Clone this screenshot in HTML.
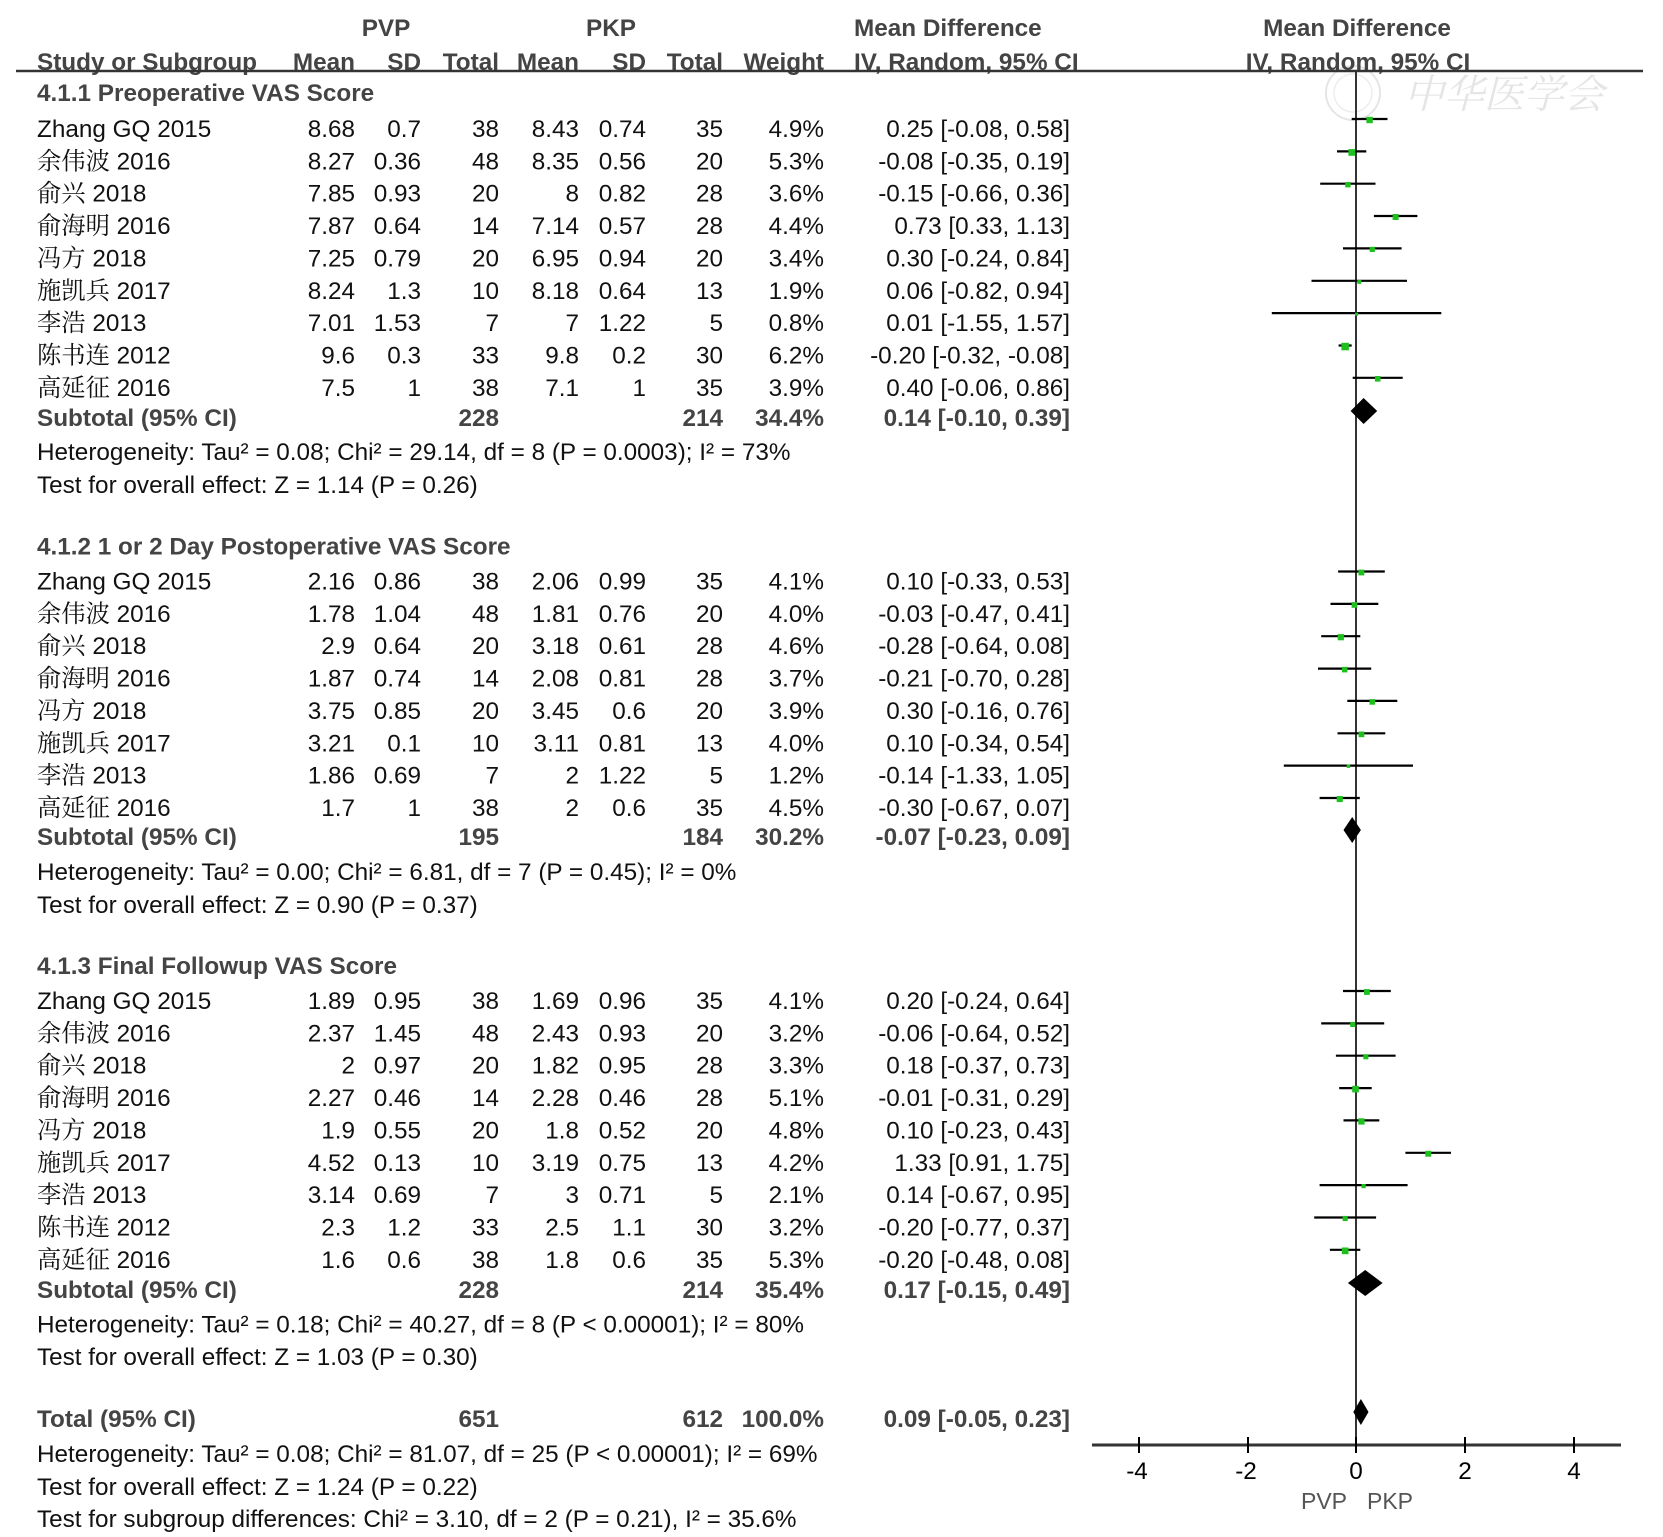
<!DOCTYPE html>
<html><head><meta charset="utf-8">
<style>
html,body{margin:0;padding:0;background:#fff;}
svg{display:block;}
text{font-family:"Liberation Sans","Noto Serif CJK SC",sans-serif;font-size:24.3px;fill:#111;}
.b{font-weight:bold;fill:#444;}
.e{text-anchor:end;}
.m{text-anchor:middle;}
.ci{stroke:#000;stroke-width:2.2;}
.sq{fill:#1ec01e;}
.dm{fill:#000;}
</style></head>
<body>
<svg width="1663" height="1537" viewBox="0 0 1663 1537" xmlns="http://www.w3.org/2000/svg">
<!-- watermark -->
<g opacity="0.5">
<circle cx="1353" cy="93" r="27" fill="none" stroke="#ccc" stroke-width="2"/>
<circle cx="1353" cy="93" r="19" fill="none" stroke="#ddd" stroke-width="1.5"/>
<text x="1404" y="108" style="font-family:'Noto Serif CJK SC',serif;font-size:40px;fill:#ccc;font-style:italic;">中华医学会</text>
</g>

<!-- header -->
<text class="b m" x="386" y="36">PVP</text>
<text class="b m" x="611" y="36">PKP</text>
<text class="b" x="854" y="36">Mean Difference</text>
<text class="b m" x="1357" y="36">Mean Difference</text>
<text class="b" x="37" y="70">Study or Subgroup</text>
<text class="b e" x="355" y="70">Mean</text>
<text class="b e" x="421" y="70">SD</text>
<text class="b e" x="499" y="70">Total</text>
<text class="b e" x="579" y="70">Mean</text>
<text class="b e" x="646" y="70">SD</text>
<text class="b e" x="723" y="70">Total</text>
<text class="b e" x="824" y="70">Weight</text>
<text class="b" x="854" y="70">IV, Random, 95% CI</text>
<text class="b m" x="1358" y="70">IV, Random, 95% CI</text>
<line x1="16" y1="71" x2="1643" y2="71" stroke="#333" stroke-width="2.5"/>

<!-- zero line -->
<line x1="1356" y1="71" x2="1356" y2="1445" stroke="#333" stroke-width="2"/>

<!-- Section 4.1.1 -->
<text class="b" x="37" y="101">4.1.1 Preoperative VAS Score</text>

<g>
<text x="37" y="137">Zhang GQ 2015</text><text class="e" x="355" y="137">8.68</text><text class="e" x="421" y="137">0.7</text><text class="e" x="499" y="137">38</text><text class="e" x="579" y="137">8.43</text><text class="e" x="646" y="137">0.74</text><text class="e" x="723" y="137">35</text><text class="e" x="824" y="137">4.9%</text><text class="e" x="1070" y="137">0.25 [-0.08, 0.58]</text>
<text x="37" y="169.4">余伟波 2016</text><text class="e" x="355" y="169.4">8.27</text><text class="e" x="421" y="169.4">0.36</text><text class="e" x="499" y="169.4">48</text><text class="e" x="579" y="169.4">8.35</text><text class="e" x="646" y="169.4">0.56</text><text class="e" x="723" y="169.4">20</text><text class="e" x="824" y="169.4">5.3%</text><text class="e" x="1070" y="169.4">-0.08 [-0.35, 0.19]</text>
<text x="37" y="201.7">俞兴 2018</text><text class="e" x="355" y="201.7">7.85</text><text class="e" x="421" y="201.7">0.93</text><text class="e" x="499" y="201.7">20</text><text class="e" x="579" y="201.7">8</text><text class="e" x="646" y="201.7">0.82</text><text class="e" x="723" y="201.7">28</text><text class="e" x="824" y="201.7">3.6%</text><text class="e" x="1070" y="201.7">-0.15 [-0.66, 0.36]</text>
<text x="37" y="234">俞海明 2016</text><text class="e" x="355" y="234">7.87</text><text class="e" x="421" y="234">0.64</text><text class="e" x="499" y="234">14</text><text class="e" x="579" y="234">7.14</text><text class="e" x="646" y="234">0.57</text><text class="e" x="723" y="234">28</text><text class="e" x="824" y="234">4.4%</text><text class="e" x="1070" y="234">0.73 [0.33, 1.13]</text>
<text x="37" y="266.4">冯方 2018</text><text class="e" x="355" y="266.4">7.25</text><text class="e" x="421" y="266.4">0.79</text><text class="e" x="499" y="266.4">20</text><text class="e" x="579" y="266.4">6.95</text><text class="e" x="646" y="266.4">0.94</text><text class="e" x="723" y="266.4">20</text><text class="e" x="824" y="266.4">3.4%</text><text class="e" x="1070" y="266.4">0.30 [-0.24, 0.84]</text>
<text x="37" y="298.8">施凯兵 2017</text><text class="e" x="355" y="298.8">8.24</text><text class="e" x="421" y="298.8">1.3</text><text class="e" x="499" y="298.8">10</text><text class="e" x="579" y="298.8">8.18</text><text class="e" x="646" y="298.8">0.64</text><text class="e" x="723" y="298.8">13</text><text class="e" x="824" y="298.8">1.9%</text><text class="e" x="1070" y="298.8">0.06 [-0.82, 0.94]</text>
<text x="37" y="331.1">李浩 2013</text><text class="e" x="355" y="331.1">7.01</text><text class="e" x="421" y="331.1">1.53</text><text class="e" x="499" y="331.1">7</text><text class="e" x="579" y="331.1">7</text><text class="e" x="646" y="331.1">1.22</text><text class="e" x="723" y="331.1">5</text><text class="e" x="824" y="331.1">0.8%</text><text class="e" x="1070" y="331.1">0.01 [-1.55, 1.57]</text>
<text x="37" y="363.5">陈书连 2012</text><text class="e" x="355" y="363.5">9.6</text><text class="e" x="421" y="363.5">0.3</text><text class="e" x="499" y="363.5">33</text><text class="e" x="579" y="363.5">9.8</text><text class="e" x="646" y="363.5">0.2</text><text class="e" x="723" y="363.5">30</text><text class="e" x="824" y="363.5">6.2%</text><text class="e" x="1070" y="363.5">-0.20 [-0.32, -0.08]</text>
<text x="37" y="395.8">高延征 2016</text><text class="e" x="355" y="395.8">7.5</text><text class="e" x="421" y="395.8">1</text><text class="e" x="499" y="395.8">38</text><text class="e" x="579" y="395.8">7.1</text><text class="e" x="646" y="395.8">1</text><text class="e" x="723" y="395.8">35</text><text class="e" x="824" y="395.8">3.9%</text><text class="e" x="1070" y="395.8">0.40 [-0.06, 0.86]</text>
<text class="b" x="37" y="426">Subtotal (95% CI)</text><text class="b e" x="499" y="426">228</text><text class="b e" x="723" y="426">214</text><text class="b e" x="824" y="426">34.4%</text><text class="b e" x="1070" y="426">0.14 [-0.10, 0.39]</text>
<text x="37" y="460">Heterogeneity: Tau² = 0.08; Chi² = 29.14, df = 8 (P = 0.0003); I² = 73%</text>
<text x="37" y="493">Test for overall effect: Z = 1.14 (P = 0.26)</text>
</g>

<!-- Section 4.1.2 -->
<text class="b" x="37" y="554.5">4.1.2 1 or 2 Day Postoperative VAS Score</text>
<g>
<text x="37" y="589.5">Zhang GQ 2015</text><text class="e" x="355" y="589.5">2.16</text><text class="e" x="421" y="589.5">0.86</text><text class="e" x="499" y="589.5">38</text><text class="e" x="579" y="589.5">2.06</text><text class="e" x="646" y="589.5">0.99</text><text class="e" x="723" y="589.5">35</text><text class="e" x="824" y="589.5">4.1%</text><text class="e" x="1070" y="589.5">0.10 [-0.33, 0.53]</text>
<text x="37" y="621.9">余伟波 2016</text><text class="e" x="355" y="621.9">1.78</text><text class="e" x="421" y="621.9">1.04</text><text class="e" x="499" y="621.9">48</text><text class="e" x="579" y="621.9">1.81</text><text class="e" x="646" y="621.9">0.76</text><text class="e" x="723" y="621.9">20</text><text class="e" x="824" y="621.9">4.0%</text><text class="e" x="1070" y="621.9">-0.03 [-0.47, 0.41]</text>
<text x="37" y="654.2">俞兴 2018</text><text class="e" x="355" y="654.2">2.9</text><text class="e" x="421" y="654.2">0.64</text><text class="e" x="499" y="654.2">20</text><text class="e" x="579" y="654.2">3.18</text><text class="e" x="646" y="654.2">0.61</text><text class="e" x="723" y="654.2">28</text><text class="e" x="824" y="654.2">4.6%</text><text class="e" x="1070" y="654.2">-0.28 [-0.64, 0.08]</text>
<text x="37" y="686.6">俞海明 2016</text><text class="e" x="355" y="686.6">1.87</text><text class="e" x="421" y="686.6">0.74</text><text class="e" x="499" y="686.6">14</text><text class="e" x="579" y="686.6">2.08</text><text class="e" x="646" y="686.6">0.81</text><text class="e" x="723" y="686.6">28</text><text class="e" x="824" y="686.6">3.7%</text><text class="e" x="1070" y="686.6">-0.21 [-0.70, 0.28]</text>
<text x="37" y="718.9">冯方 2018</text><text class="e" x="355" y="718.9">3.75</text><text class="e" x="421" y="718.9">0.85</text><text class="e" x="499" y="718.9">20</text><text class="e" x="579" y="718.9">3.45</text><text class="e" x="646" y="718.9">0.6</text><text class="e" x="723" y="718.9">20</text><text class="e" x="824" y="718.9">3.9%</text><text class="e" x="1070" y="718.9">0.30 [-0.16, 0.76]</text>
<text x="37" y="751.3">施凯兵 2017</text><text class="e" x="355" y="751.3">3.21</text><text class="e" x="421" y="751.3">0.1</text><text class="e" x="499" y="751.3">10</text><text class="e" x="579" y="751.3">3.11</text><text class="e" x="646" y="751.3">0.81</text><text class="e" x="723" y="751.3">13</text><text class="e" x="824" y="751.3">4.0%</text><text class="e" x="1070" y="751.3">0.10 [-0.34, 0.54]</text>
<text x="37" y="783.6">李浩 2013</text><text class="e" x="355" y="783.6">1.86</text><text class="e" x="421" y="783.6">0.69</text><text class="e" x="499" y="783.6">7</text><text class="e" x="579" y="783.6">2</text><text class="e" x="646" y="783.6">1.22</text><text class="e" x="723" y="783.6">5</text><text class="e" x="824" y="783.6">1.2%</text><text class="e" x="1070" y="783.6">-0.14 [-1.33, 1.05]</text>
<text x="37" y="816">高延征 2016</text><text class="e" x="355" y="816">1.7</text><text class="e" x="421" y="816">1</text><text class="e" x="499" y="816">38</text><text class="e" x="579" y="816">2</text><text class="e" x="646" y="816">0.6</text><text class="e" x="723" y="816">35</text><text class="e" x="824" y="816">4.5%</text><text class="e" x="1070" y="816">-0.30 [-0.67, 0.07]</text>
<text class="b" x="37" y="845">Subtotal (95% CI)</text><text class="b e" x="499" y="845">195</text><text class="b e" x="723" y="845">184</text><text class="b e" x="824" y="845">30.2%</text><text class="b e" x="1070" y="845">-0.07 [-0.23, 0.09]</text>
<text x="37" y="880">Heterogeneity: Tau² = 0.00; Chi² = 6.81, df = 7 (P = 0.45); I² = 0%</text>
<text x="37" y="913">Test for overall effect: Z = 0.90 (P = 0.37)</text>
</g>

<!-- Section 4.1.3 -->
<text class="b" x="37" y="974">4.1.3 Final Followup VAS Score</text>
<g>
<text x="37" y="1009">Zhang GQ 2015</text><text class="e" x="355" y="1009">1.89</text><text class="e" x="421" y="1009">0.95</text><text class="e" x="499" y="1009">38</text><text class="e" x="579" y="1009">1.69</text><text class="e" x="646" y="1009">0.96</text><text class="e" x="723" y="1009">35</text><text class="e" x="824" y="1009">4.1%</text><text class="e" x="1070" y="1009">0.20 [-0.24, 0.64]</text>
<text x="37" y="1041.4">余伟波 2016</text><text class="e" x="355" y="1041.4">2.37</text><text class="e" x="421" y="1041.4">1.45</text><text class="e" x="499" y="1041.4">48</text><text class="e" x="579" y="1041.4">2.43</text><text class="e" x="646" y="1041.4">0.93</text><text class="e" x="723" y="1041.4">20</text><text class="e" x="824" y="1041.4">3.2%</text><text class="e" x="1070" y="1041.4">-0.06 [-0.64, 0.52]</text>
<text x="37" y="1073.7">俞兴 2018</text><text class="e" x="355" y="1073.7">2</text><text class="e" x="421" y="1073.7">0.97</text><text class="e" x="499" y="1073.7">20</text><text class="e" x="579" y="1073.7">1.82</text><text class="e" x="646" y="1073.7">0.95</text><text class="e" x="723" y="1073.7">28</text><text class="e" x="824" y="1073.7">3.3%</text><text class="e" x="1070" y="1073.7">0.18 [-0.37, 0.73]</text>
<text x="37" y="1106.1">俞海明 2016</text><text class="e" x="355" y="1106.1">2.27</text><text class="e" x="421" y="1106.1">0.46</text><text class="e" x="499" y="1106.1">14</text><text class="e" x="579" y="1106.1">2.28</text><text class="e" x="646" y="1106.1">0.46</text><text class="e" x="723" y="1106.1">28</text><text class="e" x="824" y="1106.1">5.1%</text><text class="e" x="1070" y="1106.1">-0.01 [-0.31, 0.29]</text>
<text x="37" y="1138.4">冯方 2018</text><text class="e" x="355" y="1138.4">1.9</text><text class="e" x="421" y="1138.4">0.55</text><text class="e" x="499" y="1138.4">20</text><text class="e" x="579" y="1138.4">1.8</text><text class="e" x="646" y="1138.4">0.52</text><text class="e" x="723" y="1138.4">20</text><text class="e" x="824" y="1138.4">4.8%</text><text class="e" x="1070" y="1138.4">0.10 [-0.23, 0.43]</text>
<text x="37" y="1170.8">施凯兵 2017</text><text class="e" x="355" y="1170.8">4.52</text><text class="e" x="421" y="1170.8">0.13</text><text class="e" x="499" y="1170.8">10</text><text class="e" x="579" y="1170.8">3.19</text><text class="e" x="646" y="1170.8">0.75</text><text class="e" x="723" y="1170.8">13</text><text class="e" x="824" y="1170.8">4.2%</text><text class="e" x="1070" y="1170.8">1.33 [0.91, 1.75]</text>
<text x="37" y="1203.1">李浩 2013</text><text class="e" x="355" y="1203.1">3.14</text><text class="e" x="421" y="1203.1">0.69</text><text class="e" x="499" y="1203.1">7</text><text class="e" x="579" y="1203.1">3</text><text class="e" x="646" y="1203.1">0.71</text><text class="e" x="723" y="1203.1">5</text><text class="e" x="824" y="1203.1">2.1%</text><text class="e" x="1070" y="1203.1">0.14 [-0.67, 0.95]</text>
<text x="37" y="1235.5">陈书连 2012</text><text class="e" x="355" y="1235.5">2.3</text><text class="e" x="421" y="1235.5">1.2</text><text class="e" x="499" y="1235.5">33</text><text class="e" x="579" y="1235.5">2.5</text><text class="e" x="646" y="1235.5">1.1</text><text class="e" x="723" y="1235.5">30</text><text class="e" x="824" y="1235.5">3.2%</text><text class="e" x="1070" y="1235.5">-0.20 [-0.77, 0.37]</text>
<text x="37" y="1267.8">高延征 2016</text><text class="e" x="355" y="1267.8">1.6</text><text class="e" x="421" y="1267.8">0.6</text><text class="e" x="499" y="1267.8">38</text><text class="e" x="579" y="1267.8">1.8</text><text class="e" x="646" y="1267.8">0.6</text><text class="e" x="723" y="1267.8">35</text><text class="e" x="824" y="1267.8">5.3%</text><text class="e" x="1070" y="1267.8">-0.20 [-0.48, 0.08]</text>
<text class="b" x="37" y="1298">Subtotal (95% CI)</text><text class="b e" x="499" y="1298">228</text><text class="b e" x="723" y="1298">214</text><text class="b e" x="824" y="1298">35.4%</text><text class="b e" x="1070" y="1298">0.17 [-0.15, 0.49]</text>
<text x="37" y="1332.5">Heterogeneity: Tau² = 0.18; Chi² = 40.27, df = 8 (P &lt; 0.00001); I² = 80%</text>
<text x="37" y="1365">Test for overall effect: Z = 1.03 (P = 0.30)</text>
</g>

<!-- Total -->
<text class="b" x="37" y="1427">Total (95% CI)</text><text class="b e" x="499" y="1427">651</text><text class="b e" x="723" y="1427">612</text><text class="b e" x="824" y="1427">100.0%</text><text class="b e" x="1070" y="1427">0.09 [-0.05, 0.23]</text>
<text x="37" y="1462">Heterogeneity: Tau² = 0.08; Chi² = 81.07, df = 25 (P &lt; 0.00001); I² = 69%</text>
<text x="37" y="1495">Test for overall effect: Z = 1.24 (P = 0.22)</text>
<text x="37" y="1527">Test for subgroup differences: Chi² = 3.10, df = 2 (P = 0.21), I² = 35.6%</text>

<!-- CI lines section 1 -->
<g class="ci">
<line x1="1351.7" y1="119" x2="1387.5" y2="119"/>
<line x1="1337.0" y1="151.4" x2="1366.3" y2="151.4"/>
<line x1="1320.2" y1="183.7" x2="1375.5" y2="183.7"/>
<line x1="1373.9" y1="216" x2="1417.4" y2="216"/>
<line x1="1343.0" y1="248.4" x2="1401.6" y2="248.4"/>
<line x1="1311.5" y1="280.8" x2="1407.0" y2="280.8"/>
<line x1="1271.8" y1="313.1" x2="1441.3" y2="313.1"/>
<line x1="1338.6" y1="345.5" x2="1351.7" y2="345.5"/>
<line x1="1352.7" y1="377.8" x2="1402.7" y2="377.8"/>
<!-- section 2 -->
<line x1="1338.1" y1="571.5" x2="1384.8" y2="571.5"/>
<line x1="1330.5" y1="603.9" x2="1378.3" y2="603.9"/>
<line x1="1321.2" y1="636.2" x2="1360.3" y2="636.2"/>
<line x1="1318.0" y1="668.6" x2="1371.2" y2="668.6"/>
<line x1="1347.3" y1="700.9" x2="1397.3" y2="700.9"/>
<line x1="1337.5" y1="733.3" x2="1385.3" y2="733.3"/>
<line x1="1283.8" y1="765.6" x2="1413.0" y2="765.6"/>
<line x1="1319.6" y1="798" x2="1359.8" y2="798"/>
<!-- section 3 -->
<line x1="1343.0" y1="991" x2="1390.8" y2="991"/>
<line x1="1321.2" y1="1023.4" x2="1384.2" y2="1023.4"/>
<line x1="1335.9" y1="1055.7" x2="1395.6" y2="1055.7"/>
<line x1="1339.2" y1="1088.1" x2="1371.7" y2="1088.1"/>
<line x1="1343.5" y1="1120.4" x2="1379.3" y2="1120.4"/>
<line x1="1405.4" y1="1152.8" x2="1451.0" y2="1152.8"/>
<line x1="1319.6" y1="1185.1" x2="1407.6" y2="1185.1"/>
<line x1="1314.2" y1="1217.5" x2="1376.1" y2="1217.5"/>
<line x1="1329.9" y1="1249.8" x2="1360.3" y2="1249.8"/>
</g>

<!-- squares -->
<g class="sq">
<rect x="1366.4" y="116.8" width="6.4" height="6.4"/>
<rect x="1348.4" y="149.1" width="6.7" height="6.7"/>
<rect x="1345.2" y="182.0" width="5.4" height="5.4"/>
<rect x="1392.6" y="214.0" width="6.0" height="6.0"/>
<rect x="1369.7" y="246.8" width="5.2" height="5.2"/>
<rect x="1357.3" y="279.8" width="4.0" height="4.0"/>
<rect x="1355.0" y="312.6" width="3.1" height="3.1"/>
<rect x="1341.4" y="342.8" width="7.5" height="7.5"/>
<rect x="1374.9" y="376.0" width="5.6" height="5.6"/>

<rect x="1358.5" y="569.6" width="5.8" height="5.8"/>
<rect x="1351.6" y="602.1" width="5.7" height="5.7"/>
<rect x="1337.7" y="634.1" width="6.2" height="6.2"/>
<rect x="1341.9" y="666.9" width="5.5" height="5.5"/>
<rect x="1369.5" y="699.1" width="5.6" height="5.6"/>
<rect x="1358.6" y="731.5" width="5.7" height="5.7"/>
<rect x="1346.7" y="764.4" width="3.5" height="3.5"/>
<rect x="1336.7" y="796.0" width="6.1" height="6.1"/>

<rect x="1364.0" y="989.1" width="5.8" height="5.8"/>
<rect x="1350.2" y="1021.9" width="5.1" height="5.1"/>
<rect x="1363.3" y="1054.2" width="5.1" height="5.1"/>
<rect x="1352.2" y="1085.8" width="6.6" height="6.6"/>
<rect x="1358.3" y="1118.3" width="6.3" height="6.3"/>
<rect x="1425.3" y="1150.8" width="5.9" height="5.9"/>
<rect x="1361.5" y="1184.0" width="4.2" height="4.2"/>
<rect x="1342.6" y="1215.9" width="5.1" height="5.1"/>
<rect x="1341.8" y="1247.5" width="6.7" height="6.7"/>
</g>

<!-- diamonds -->
<g class="dm">
<polygon points="1350.6,411 1363.6,398 1377.2,411 1363.6,424"/>
<polygon points="1343.5,830 1352.2,817 1360.9,830 1352.2,843"/>
<polygon points="1347.9,1283 1365.2,1270 1382.6,1283 1365.2,1296"/>
<polygon points="1353.3,1412 1360.9,1399 1368.5,1412 1360.9,1425"/>
</g>

<!-- axis -->
<line x1="1092" y1="1445" x2="1621" y2="1445" stroke="#333" stroke-width="3"/>
<g stroke="#000" stroke-width="2">
<line x1="1139" y1="1437" x2="1139" y2="1453"/>
<line x1="1248" y1="1437" x2="1248" y2="1453"/>
<line x1="1356" y1="1437" x2="1356" y2="1453"/>
<line x1="1465" y1="1437" x2="1465" y2="1453"/>
<line x1="1574" y1="1437" x2="1574" y2="1453"/>
</g>
<text class="m" x="1137" y="1479" style="fill:#000">-4</text>
<text class="m" x="1246" y="1479" style="fill:#000">-2</text>
<text class="m" x="1356" y="1479" style="fill:#000">0</text>
<text class="m" x="1465" y="1479" style="fill:#000">2</text>
<text class="m" x="1574" y="1479" style="fill:#000">4</text>
<text x="1301" y="1509" style="fill:#555;font-size:23px">PVP</text>
<text x="1367" y="1509" style="fill:#555;font-size:23px">PKP</text>
</svg>
</body></html>
